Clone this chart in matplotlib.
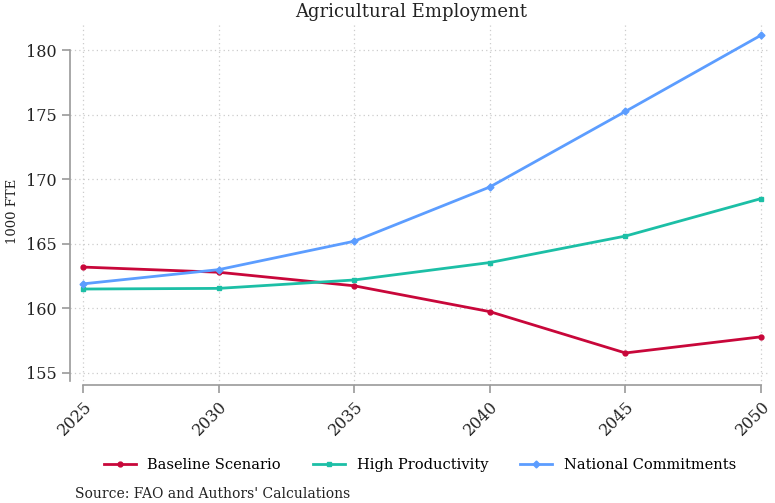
import matplotlib
matplotlib.use("Agg")
import matplotlib.pyplot as plt

years = [2025, 2030, 2035, 2040, 2045, 2050]
baseline = [163.2, 162.8, 161.75, 159.75, 156.55, 157.8]
high_prod = [161.5, 161.55, 162.2, 163.55, 165.6, 168.5]
national = [161.9, 163.0, 165.2, 169.4, 175.25, 181.15]
y_ticks = [155, 160, 165, 170, 175, 180]

plt.rcParams['font.family'] = ['DejaVu Serif']

fig = plt.figure(figsize=(7.75, 5.03), dpi=100)
ax = fig.add_axes([0.0903, 0.2346, 0.9032, 0.7154])

ax.plot(years, baseline, color='#c8073a', lw=2, marker='o', ms=3.5, label='Baseline Scenario')
ax.plot(years, high_prod, color='#1cbfa6', lw=2, marker='s', ms=3.5, label='High Productivity')
ax.plot(years, national, color='#5c9dff', lw=2, marker='D', ms=3.5, label='National Commitments')

ax.set_xlim(2024.52, 2050.33)
ax.set_ylim(154.07, 181.93)
ax.set_xticks(years)
ax.set_yticks(y_ticks)
ax.set_xticklabels([str(y) for y in years], rotation=45, ha='right', rotation_mode='anchor', fontsize=11.5)
ax.tick_params(axis='y', labelsize=11.5)
ax.tick_params(colors='#9a9a9a', labelcolor='#222222', length=6, width=1.2)

ax.grid(True, linestyle=(0, (1, 2.5)), color='#cccccc', lw=0.9)
for s in ['top', 'right']:
    ax.spines[s].set_visible(False)
for s in ['left', 'bottom']:
    ax.spines[s].set_color('#9a9a9a')
    ax.spines[s].set_linewidth(1.2)
ax.spines['bottom'].set_bounds(2025, 2050)
ax.spines['left'].set_bounds(154.4, 180)

fig.text(0.016, 0.58, '1000 FTE', fontsize=9.5, color='#222222', rotation=90, ha='center', va='center')
fig.text(0.53, 0.976, 'Agricultural Employment', fontsize=13, color='#222222', ha='center', va='center')

ax.legend(loc='center', bbox_to_anchor=(0.5, -0.222), ncol=3, frameon=False,
          fontsize=10.5, handlelength=2.2, columnspacing=2.2)

fig.text(0.097, 0.018, "Source: FAO and Authors' Calculations", fontsize=10, color='#222222', va='center')

fig.savefig('out.png', dpi=100)
